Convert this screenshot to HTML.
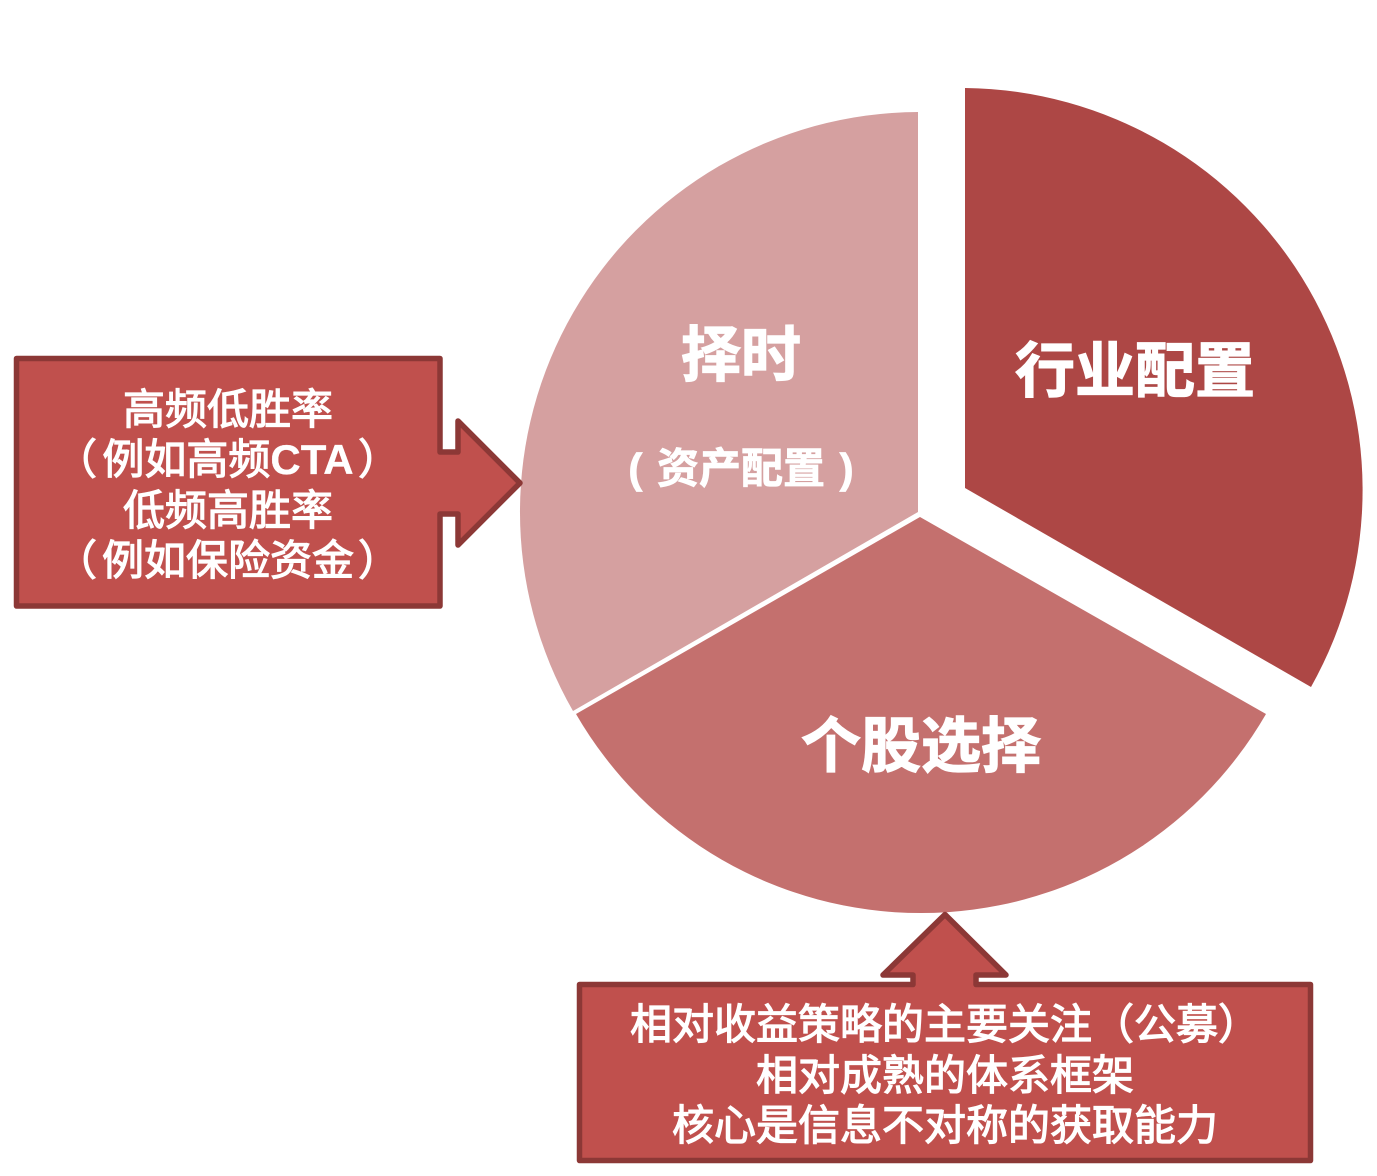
<!DOCTYPE html>
<html>
<head>
<meta charset="utf-8">
<style>
html,body{margin:0;padding:0;background:#fff;width:1377px;height:1176px;overflow:hidden}
svg{display:block}
text{font-family:"Liberation Sans","Noto Sans CJK SC",sans-serif;fill:#fff;text-anchor:middle}
.b{font-size:60px;font-weight:700;stroke:#fff;stroke-width:1.2px}
.m{font-size:42px;font-weight:700;stroke:#fff;stroke-width:.8px;word-spacing:3px}
.t{font-size:42px;font-weight:400;stroke:#fff;stroke-width:1.2px}
.l{font-weight:700;stroke-width:.3px}
.s{text-anchor:start}
</style>
</head>
<body>
<svg width="1377" height="1176" viewBox="0 0 1377 1176" xmlns="http://www.w3.org/2000/svg">
<rect width="1377" height="1176" fill="#fff"/>
<path d="M918 512 L918 112 A400 400 0 0 0 573 711 Z" fill="#D5A0A0"/>
<path d="M920 517 L576 714 A398.5 398.5 0 0 0 1266 714 Z" fill="#C4706E"/>
<path d="M965 488 L965 88 A402 402 0 0 1 1311 687 Z" fill="#AD4745"/>
<path d="M16.5 358.5 H440 V452 H458 V421 L520 483 L458 545 V514 H440 V606 H16.5 Z" fill="#C0504D" stroke="#8C3836" stroke-width="5.5" stroke-linejoin="round"/>
<path d="M579.5 984.5 H913 V975 H883 L945 914.5 L1006 975 H976 V984.5 H1310.5 V1160.5 H579.5 Z" fill="#C0504D" stroke="#8C3836" stroke-width="5.5" stroke-linejoin="round"/>
<text class="b" x="741" y="376">择时</text>
<text class="m" x="741" y="483">( 资产配置 )</text>
<text class="b" x="1135" y="392">行业配置</text>
<text class="b" x="921" y="767">个股选择</text>
<text class="t" x="228" y="424">高频低胜率</text>
<text class="t s" x="55" y="474">（</text>
<text class="t" x="228" y="474">例如高频<tspan class="l">CTA</tspan></text>
<text class="t s" x="358" y="474">）</text>
<text class="t" x="228" y="525">低频高胜率</text>
<text class="t s" x="55" y="575">（</text>
<text class="t" x="228" y="575">例如保险资金</text>
<text class="t s" x="358" y="575">）</text>
<text class="t" x="945" y="1039">相对收益策略的主要关注（公募）</text>
<text class="t" x="945" y="1090">相对成熟的体系框架</text>
<text class="t" x="945" y="1140">核心是信息不对称的获取能力</text>
</svg>
</body>
</html>
